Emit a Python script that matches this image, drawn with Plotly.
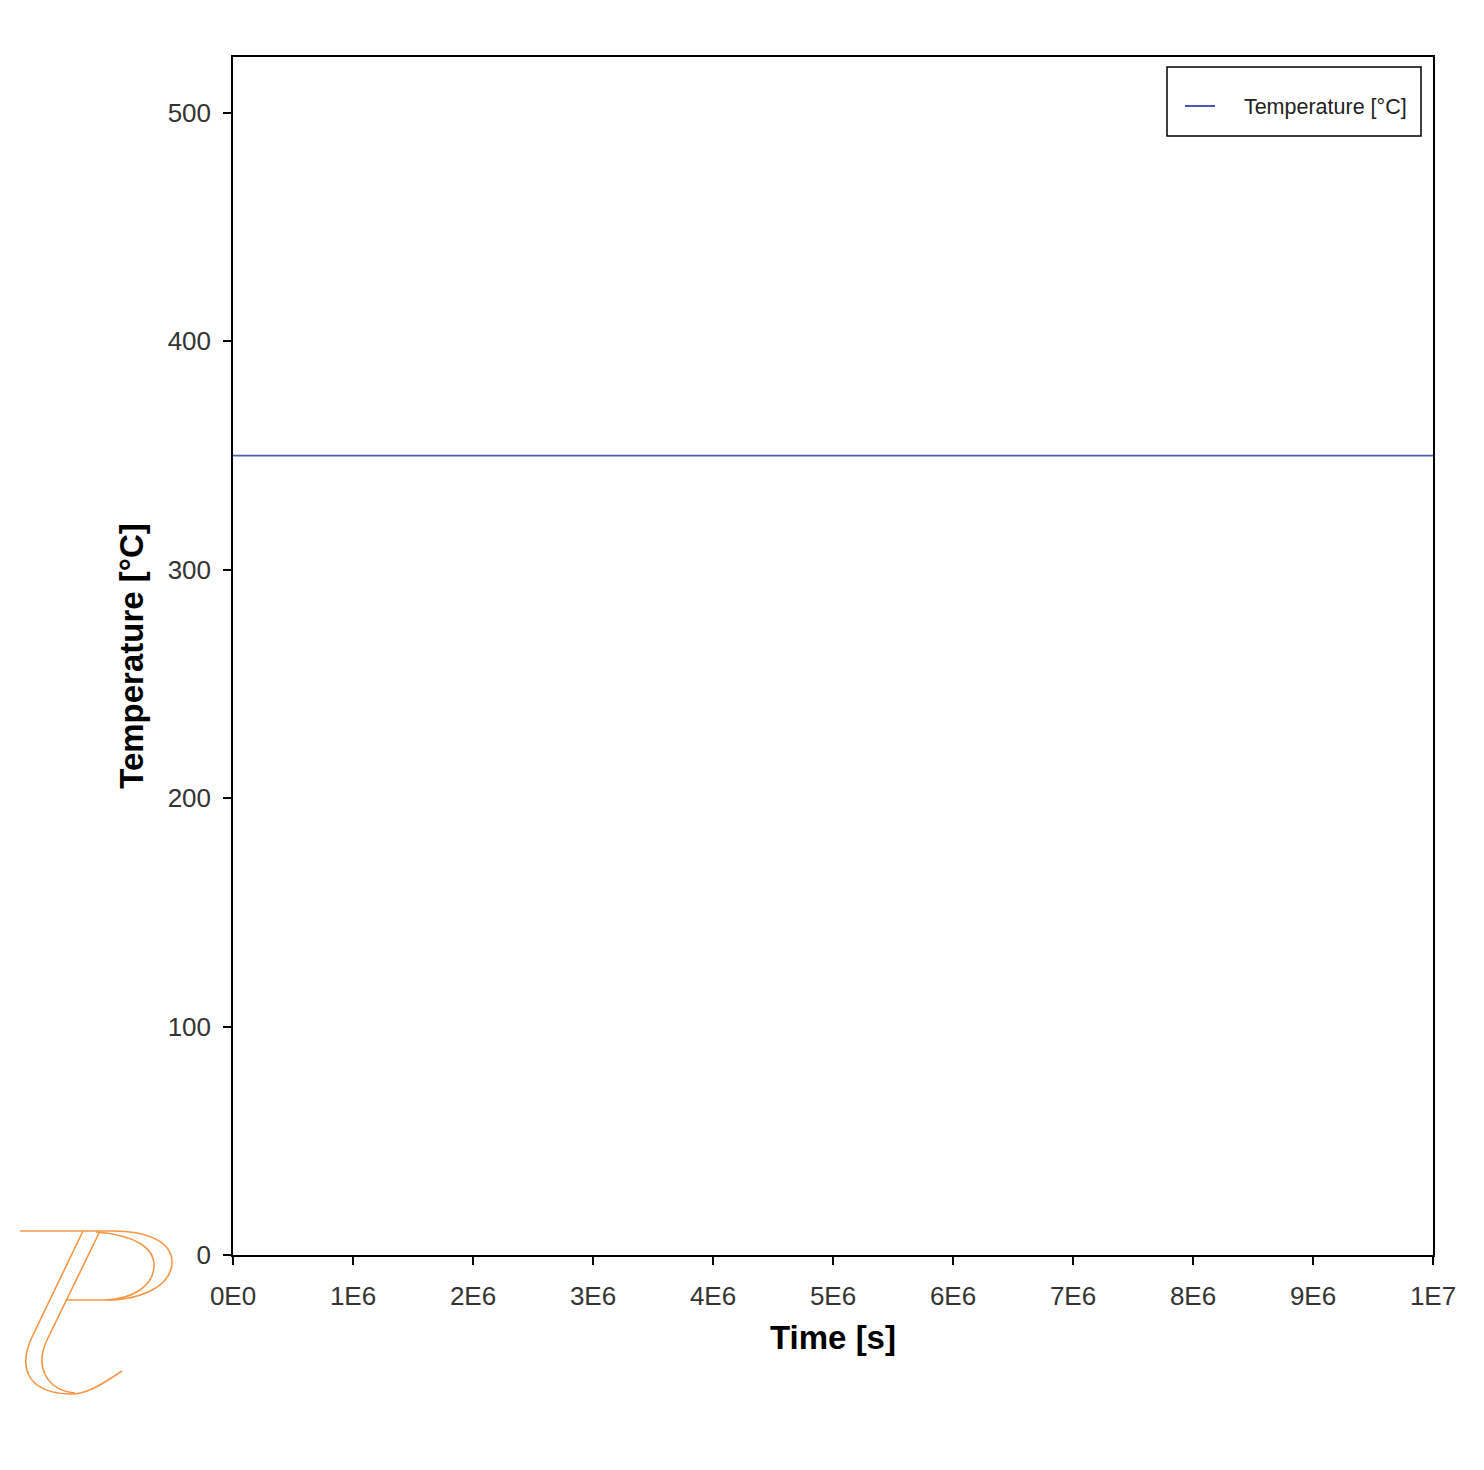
import plotly.graph_objects as go

# Data
time_s = [0, 1e7]
temperature_c = [350, 350]
series_name = "Temperature [°C]"
x_tickvals = [0, 1e6, 2e6, 3e6, 4e6, 5e6, 6e6, 7e6, 8e6, 9e6, 1e7]
x_ticktext = ["0E0", "1E6", "2E6", "3E6", "4E6", "5E6", "6E6", "7E6", "8E6", "9E6", "1E7"]
y_tickvals = [0, 100, 200, 300, 400, 500]

W, H = 1484, 1470
OFF = 8  # page body offset
L, R, T, B = 225, 59, 49, 223
PW, PH = W - L - R, H - T - B
FONT = "Liberation Sans, Arial, sans-serif"


def to_paper(px, py):
    return (px - OFF - L) / PW, (H - B - (py - OFF)) / PH


fig = go.Figure()
fig.add_trace(go.Scatter(x=time_s, y=temperature_c, mode="lines",
                         name="\u00a0" * 4 + series_name,
                         line=dict(color="rgb(72,92,176)", width=1.8)))


def path_str(pts):
    out = []
    for cmd, coords in pts:
        vals = []
        for (px, py) in coords:
            xp, yp = to_paper(px, py)
            vals.append(f"{xp:.5f},{yp:.5f}")
        out.append(cmd + " " + " ".join(vals))
    return " ".join(out)


logo_paths = [
    [("M", [(20, 1231)]), ("L", [(112, 1231)]),
     ("C", [(150, 1231), (172, 1243), (172, 1262)]),
     ("C", [(172, 1284), (145, 1300), (105, 1300)]), ("L", [(67, 1300)])],
    [("M", [(96, 1232)]),
     ("C", [(135, 1235), (154, 1248), (154, 1265)]),
     ("C", [(154, 1286), (133, 1299), (105, 1300)])],
    [("M", [(83, 1231)]), ("L", [(33, 1335)]),
     ("C", [(18, 1365), (25, 1392), (68, 1394)]),
     ("C", [(88, 1395), (105, 1382), (122, 1371)])],
    [("M", [(100, 1231)]), ("L", [(47, 1340)]),
     ("C", [(35, 1365), (45, 1390), (75, 1393)])],
]

shapes = []
for p in logo_paths:
    shapes.append(dict(type="path", xref="paper", yref="paper",
                       path=path_str(p),
                       line=dict(color="rgb(247,150,70)", width=1.6),
                       layer="above"))

# legend frame
x0, y0 = to_paper(1167, 136)
x1, y1 = to_paper(1421, 67)
shapes.append(dict(type="rect", xref="paper", yref="paper", x0=x0, y0=y0, x1=x1, y1=y1,
                   line=dict(color="black", width=1.5), fillcolor="rgba(0,0,0,0)",
                   layer="above"))

lx, ly = to_paper(1180, 106)

axis_common = dict(showline=True, linecolor="black", linewidth=1.5, mirror=True,
                   ticks="outside", ticklen=8, tickcolor="black", tickwidth=1.5,
                   showgrid=False, zeroline=False,
                   tickfont=dict(family=FONT, size=26, color="#333333"))

fig.update_layout(
    width=W, height=H,
    margin=dict(l=L, r=R, t=T, b=B),
    plot_bgcolor="white", paper_bgcolor="white",
    shapes=shapes,
    showlegend=True,
    legend=dict(x=lx, y=ly, xanchor="left", yanchor="middle",
                borderwidth=0, bgcolor="rgba(0,0,0,0)", itemwidth=30,
                font=dict(family=FONT, size=21.5, color="#222222")),
    xaxis=dict(range=[0, 1e7], tickvals=x_tickvals, ticktext=x_ticktext,
               ticklabelstandoff=9,
               title=dict(text="<b>Time [s]</b>", standoff=16,
                          font=dict(family=FONT, size=33, color="black")),
               **axis_common),
    yaxis=dict(range=[0, 524.5], tickvals=y_tickvals,
               ticklabelstandoff=7,
               title=dict(text="<b>Temperature [°C]</b>", standoff=14,
                          font=dict(family=FONT, size=33, color="black")),
               **axis_common),
)

fig.write_html("out.html")
